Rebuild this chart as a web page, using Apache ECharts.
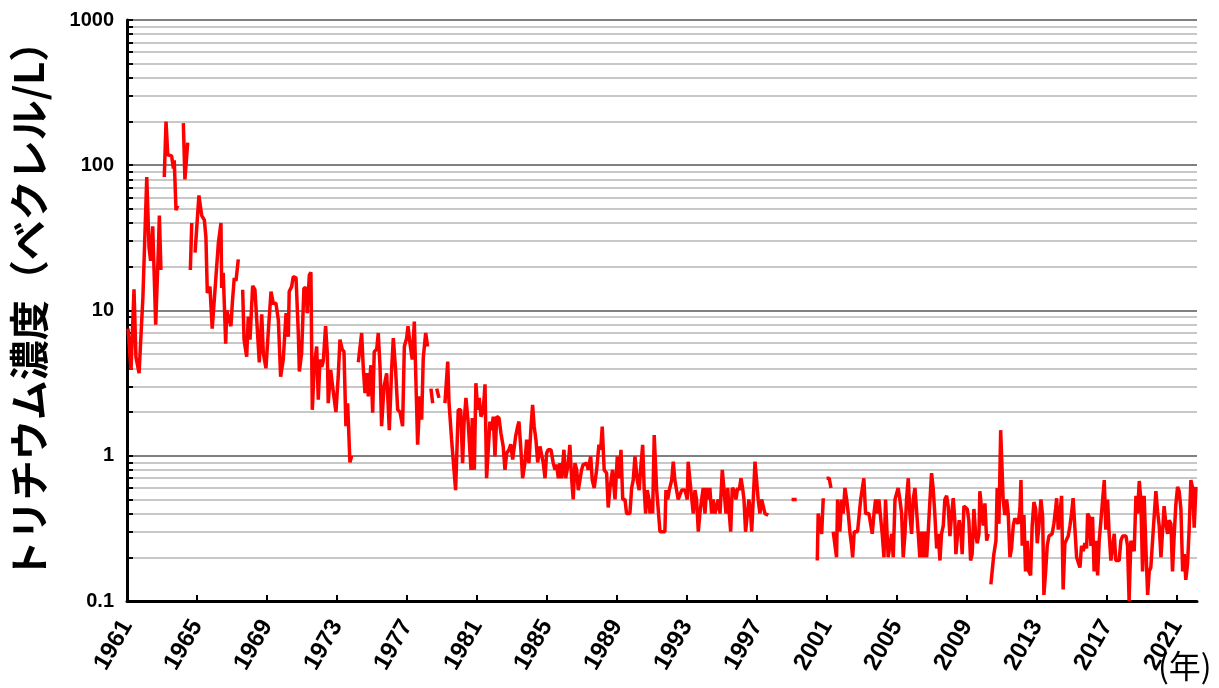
<!DOCTYPE html>
<html><head><meta charset="utf-8">
<script src="https://cdn.jsdelivr.net/npm/echarts@6/dist/echarts.min.js"></script>
<style>html,body{margin:0;padding:0;background:#fff}#c{width:1219px;height:688px}</style>
</head><body><div id="c"></div>
<script>
// decimal year of each sample; a null concentration marks a gap in the record
const years = [
1961.06,1961.23,1961.40,1961.51,1961.69,1961.91,1962.13,1962.26,1962.35,1962.47,1962.64,1962.79,1962.85,1962.94,1963.03,
1963.13,1963.23,1963.33,1963.55,1963.65,1963.70,1963.80,1963.90,1964.05,1964.22,1964.31,1964.47,1964.55,1964.62,1964.70,1964.80,
1964.89,1965.11,1965.27,1965.42,1965.51,1965.59,1965.74,1965.87,1966.03,1966.22,1966.37,1966.41,1966.50,1966.64,1966.70,1966.94,1967.02,1967.13,1967.23,1967.36,1967.50,
1967.61,1967.69,1967.84,1967.93,1968.03,1968.18,1968.31,1968.41,1968.56,1968.70,1968.79,1968.94,1969.07,1969.23,1969.36,1969.51,1969.65,1969.78,1969.93,1970.09,1970.22,1970.27,1970.41,1970.50,1970.66,1970.79,1970.85,1970.98,
1971.11,1971.23,1971.30,1971.42,1971.51,1971.59,1971.70,1971.84,1971.93,1972.03,1972.13,1972.22,1972.35,1972.45,1972.50,1972.64,1972.75,1972.94,1973.07,1973.17,1973.30,1973.40,1973.51,1973.61,1973.69,1973.74,1973.84,1974.00,
1974.22,1974.41,1974.50,1974.60,1974.70,1974.79,1974.94,1975.04,1975.13,1975.27,1975.36,1975.46,1975.55,1975.69,1975.84,1975.99,1976.13,1976.22,1976.35,1976.47,1976.60,1976.75,1976.85,1976.98,1977.06,1977.17,1977.30,1977.42,1977.50,1977.61,1977.74,1977.84,1977.93,1978.07,1978.18,1978.28,1978.37,1978.47,1978.60,1978.70,1978.83,1979.00,
1979.17,1979.33,1979.40,1979.46,1979.55,1979.65,1979.78,1979.93,1980.07,1980.18,1980.26,1980.37,1980.50,1980.66,1980.73,1980.85,1980.94,1981.04,1981.13,1981.23,1981.36,1981.46,1981.55,1981.65,1981.74,1981.84,1981.93,1982.03,1982.13,1982.26,1982.37,1982.50,1982.60,1982.70,1982.83,1982.93,1983.04,1983.21,1983.33,1983.40,1983.51,1983.61,1983.74,1983.84,1983.97,
1984.09,1984.18,1984.27,1984.37,1984.47,1984.60,1984.70,1984.79,1984.89,1984.98,1985.07,1985.23,1985.36,1985.46,1985.55,1985.65,1985.74,1985.84,1985.97,1986.07,1986.22,1986.31,1986.41,1986.50,1986.60,1986.70,1986.79,1986.89,1986.98,1987.07,1987.17,1987.27,1987.36,1987.50,1987.59,1987.70,1987.84,1987.97,
1988.07,1988.16,1988.27,1988.41,1988.50,1988.60,1988.75,1988.89,1989.02,1989.13,1989.23,1989.33,1989.46,1989.55,1989.74,1989.84,1989.93,1990.03,1990.16,1990.27,1990.35,1990.47,1990.56,1990.64,1990.73,1990.83,1990.89,1990.98,1991.04,1991.13,1991.27,1991.36,1991.46,1991.74,1991.80,1991.90,1991.99,
1992.13,1992.22,1992.31,1992.41,1992.50,1992.60,1992.70,1992.79,1992.89,1993.02,1993.07,1993.17,1993.27,1993.36,1993.46,1993.55,1993.65,1993.74,1993.84,1993.93,1994.03,1994.13,1994.22,1994.31,1994.41,1994.50,1994.60,1994.70,1994.79,1994.89,1995.02,1995.11,1995.23,1995.33,1995.42,1995.50,1995.59,1995.70,1995.80,1995.90,1995.99,
1996.09,1996.18,1996.26,1996.35,1996.45,1996.54,1996.64,1996.70,1996.79,1996.89,1996.98,1997.07,1997.17,1997.27,1997.36,1997.46,1997.55,1997.65,1998.50,1998.98,1999.27,2000.00,
2000.45,2000.50,2000.60,2000.70,2000.79,2000.90,2000.98,2001.13,2001.23,2001.27,2001.32,2001.36,2001.46,2001.55,2001.61,2001.70,2001.74,2001.84,2001.93,2002.03,2002.13,2002.22,2002.31,2002.41,2002.47,2002.56,2002.66,2002.75,2002.85,2002.93,2003.02,2003.11,2003.21,2003.30,2003.40,2003.50,2003.59,2003.69,2003.78,2003.87,2003.97,
2004.07,2004.16,2004.26,2004.35,2004.45,2004.50,2004.60,2004.70,2004.79,2004.89,2004.98,2005.07,2005.17,2005.27,2005.36,2005.46,2005.55,2005.65,2005.74,2005.84,2005.93,2006.03,2006.13,2006.22,2006.31,2006.41,2006.50,2006.60,2006.70,2006.79,2006.89,2006.98,2007.07,2007.17,2007.27,2007.36,2007.46,2007.55,2007.65,2007.74,2007.84,2007.93,
2008.03,2008.13,2008.22,2008.31,2008.37,2008.47,2008.56,2008.66,2008.73,2008.83,2008.93,2009.02,2009.11,2009.21,2009.30,2009.40,2009.50,2009.59,2009.69,2009.74,2009.84,2009.93,2010.03,2010.13,2010.22,2010.30,2010.37,2010.45,2010.54,2010.66,2010.73,2010.83,2010.93,
2011.07,2011.17,2011.27,2011.36,2011.46,2011.55,2011.65,2011.74,2011.84,2011.93,2012.03,2012.09,2012.16,2012.26,2012.35,2012.45,2012.54,2012.64,2012.73,2012.83,2012.93,2013.02,2013.11,2013.23,2013.33,2013.40,2013.50,2013.59,2013.69,2013.78,2013.87,2013.97,2014.07,2014.13,2014.22,2014.31,2014.41,2014.50,2014.60,2014.70,2014.79,2014.89,2014.98,
2015.07,2015.17,2015.27,2015.36,2015.46,2015.55,2015.65,2015.74,2015.84,2015.90,2015.99,2016.09,2016.18,2016.27,2016.37,2016.47,2016.56,2016.66,2016.75,2016.85,2016.94,2017.04,2017.13,2017.23,2017.33,2017.42,2017.51,2017.61,2017.70,2017.80,2017.90,2017.99,2018.09,2018.18,2018.27,2018.37,2018.47,2018.56,2018.66,2018.75,2018.85,2018.94,
2019.04,2019.13,2019.23,2019.33,2019.42,2019.51,2019.61,2019.70,2019.80,2019.90,2019.99,2020.09,2020.18,2020.27,2020.37,2020.47,2020.56,2020.66,2020.75,2020.85,2020.94,2021.04,2021.13,2021.23,2021.33,2021.42,2021.51,2021.61,2021.70,2021.80,2021.90,2021.99,2022.09
];
// tritium concentration (Bq/L)
const tritium = [
7.5,3.9,14,4.8,3.7,12.4,83,27,22,38,8,26,45,19,null,
83,200,118,116,95,108,49,53,null,195,80,143,null,19,40,null,
25,62,45,42,32,13.2,14.6,7.5,13.9,29,40,14.3,18.2,5.9,10,7.8,11.3,16.8,16,22.5,null,
13.9,6.3,4.8,9.1,6.3,14.8,13.9,13.5,4.4,9.4,5.1,4.0,7.0,13.5,11.2,11.2,8.6,3.5,4.6,9.6,6.6,13.5,14.6,17.1,16.8,7.0,3.8,5.1,
14.3,14.3,9.6,17.6,18.3,2.07,4.1,5.65,2.43,4.6,4.1,4.5,7.8,5.0,2.3,3.9,3.0,2.0,3.5,6.3,5.4,5.2,1.6,2.3,2.3,0.9,1.0,null,
4.4,7.0,4.1,2.7,3.7,2.56,4.2,1.98,5.2,5.4,7.0,4.1,1.6,3.0,3.7,1.5,4.1,6.45,3.9,2.07,2.0,1.6,5.65,6.45,7.8,5.95,4.6,8.4,8.4,1.19,2.56,1.77,4.7,7.0,5.65,null,2.9,2.3,null,2.9,2.5,null,
2.3,4.45,2.36,2.3,1.29,1.32,0.58,2.07,2.07,0.89,1.68,2.5,1.68,0.8,1.82,0.8,3.16,2.07,2.5,1.86,2.07,3.1,0.70,0.70,1.72,1.5,1.86,0.99,1.86,1.82,1.43,1.16,0.8,1.04,1.1,1.2,0.94,1.36,1.6,1.72,1.1,0.70,0.89,1.29,0.89,
1.59,2.24,1.59,1.29,0.9,1.16,1.19,0.89,0.70,1.04,1.1,1.1,0.89,0.80,0.87,0.70,0.89,0.70,1.1,0.70,0.89,1.19,0.70,0.50,0.89,0.80,0.58,0.58,0.80,0.87,0.87,0.89,0.80,0.99,0.68,0.60,0.80,1.19,
1.1,1.59,0.80,0.76,0.44,0.6,0.80,0.50,0.99,0.7,1.1,0.50,0.50,0.40,0.40,0.6,0.68,0.99,0.68,0.58,0.8,1.19,0.58,0.40,0.58,0.5,0.40,0.5,0.40,1.39,0.58,0.58,0.30,0.30,0.58,0.5,0.58,
0.68,0.91,0.68,0.68,0.5,0.5,0.58,0.58,0.58,0.5,0.91,0.68,0.68,0.40,0.58,0.5,0.30,0.40,0.5,0.6,0.40,0.6,0.5,0.6,0.40,0.5,0.40,0.40,0.5,0.40,0.80,0.6,0.40,0.6,0.40,0.30,0.6,0.58,0.5,0.6,0.58,
0.70,0.6,0.5,0.30,0.30,0.5,0.40,0.30,0.5,0.91,0.68,0.5,0.40,0.5,0.5,0.40,0.40,0.39,null,0.5,0.5,null,
0.19,0.40,0.40,0.29,0.51,null,0.70,0.70,0.6,0.6,null,0.30,0.30,0.20,0.50,0.50,0.30,0.50,0.40,0.60,0.50,0.40,0.30,0.24,0.20,0.30,0.30,0.30,0.30,0.50,0.50,0.70,0.40,0.40,0.40,0.39,0.29,0.40,0.50,0.40,0.50,
0.50,0.29,0.20,0.50,0.50,0.20,0.20,0.29,0.20,0.50,0.50,0.60,0.50,0.40,0.20,0.29,0.50,0.70,0.40,0.29,0.50,0.60,0.60,0.29,0.20,0.30,0.20,0.30,0.20,0.30,0.50,0.76,0.60,0.39,0.23,0.29,0.19,0.29,0.33,0.50,0.53,0.45,
0.28,0.40,0.51,0.36,0.21,0.29,0.36,0.29,0.21,0.45,0.44,0.43,0.36,0.19,0.21,0.43,0.29,0.25,0.29,0.57,0.43,0.33,0.47,0.26,0.29,null,0.13,0.13,0.21,0.26,0.60,0.34,1.5,
0.50,0.39,0.50,0.40,0.20,0.23,0.33,0.37,0.38,0.34,0.43,0.68,0.24,0.39,0.16,0.26,0.16,0.15,0.33,0.48,0.43,0.25,0.32,0.50,0.38,0.11,0.16,0.24,0.28,0.28,0.29,0.34,0.43,0.51,0.31,0.39,0.53,0.12,0.25,0.25,0.28,0.33,0.40,
0.51,0.50,0.20,0.20,0.17,0.24,0.22,0.25,0.23,0.40,0.38,0.24,0.38,0.16,0.26,0.15,0.26,0.36,0.37,0.68,0.31,0.50,0.29,0.19,0.19,0.29,0.19,0.19,0.19,0.26,0.28,0.28,0.28,0.24,0.10,0.26,0.26,0.22,0.53,0.40,0.67,0.50,
0.16,0.53,0.23,0.11,0.16,0.17,0.26,0.38,0.57,0.41,0.33,0.20,0.20,0.45,0.34,0.29,0.36,0.34,0.16,0.29,0.46,0.61,0.57,0.43,0.16,0.21,0.14,0.18,0.31,0.68,0.60,0.32,0.61
];
const tickYears = [1961,1965,1969,1973,1977,1981,1985,1989,1993,1997,2001,2005,2009,2013,2017,2021];
const START_YEAR = 1961;
const END_YEAR = 2022.15;
const yTitle = 'トリチウム濃度（ベクレル/L）';
const xUnit = '(年)';

const seriesData = years.map((y, i) => [y - START_YEAR, tritium[i] == null ? '-' : tritium[i]]);
const tickOffsets = tickYears.map(y => y - START_YEAR);
const numFont = '"Liberation Sans", Arial, sans-serif';

const chart = echarts.init(document.getElementById('c'), null, {renderer: 'canvas'});
chart.setOption({
  animation: false,
  backgroundColor: '#ffffff',
  grid: {left: 127, right: 22, top: 20, bottom: 87, containLabel: false},
  xAxis: {
    type: 'value', min: 0, max: END_YEAR - START_YEAR, interval: 4,
    splitLine: {show: false},
    axisLine: {show: true, onZero: false, lineStyle: {color: '#000', width: 3}},
    axisTick: {show: true, inside: true, length: 6, customValues: tickOffsets, lineStyle: {color: '#000', width: 2}},
    axisLabel: {
      customValues: tickOffsets, rotate: 60, margin: 21,
      formatter: v => String(Math.round(v + START_YEAR)),
      fontFamily: numFont, fontWeight: 'bold', fontSize: 24, color: '#000'
    }
  },
  yAxis: {
    type: 'log', logBase: 10, min: 0.1, max: 1000,
    axisLine: {show: true, lineStyle: {color: '#000', width: 3}},
    axisTick: {show: true, inside: true, length: 6, lineStyle: {color: '#000', width: 2}},
    minorTick: {show: true, splitNumber: 9, length: 6, lineStyle: {color: '#000', width: 2}},
    splitLine: {show: true, lineStyle: {color: '#808080', width: 2}},
    minorSplitLine: {show: true, lineStyle: {color: '#c8c8c8', width: 2}},
    axisLabel: {
      margin: 13, fontFamily: numFont, fontWeight: 'bold', fontSize: 20, color: '#000',
      formatter: v => String(+v.toPrecision(3))
    }
  },
  graphic: [{
    type: 'text', x: 29, y: 301, rotation: Math.PI / 2,
    style: {text: yTitle, font: 'bold 40px "Noto Sans CJK JP", sans-serif', fill: '#000', align: 'center', verticalAlign: 'middle'}
  }, {
    type: 'text', left: 1158, top: 650,
    style: {text: xUnit, font: '32px "Noto Sans CJK JP", sans-serif', fill: '#000'}
  }],
  series: [{
    type: 'line', data: seriesData, showSymbol: false, symbol: 'none',
    connectNulls: false, lineStyle: {color: '#ff0000', width: 3.5}
  }]
});
</script></body></html>
